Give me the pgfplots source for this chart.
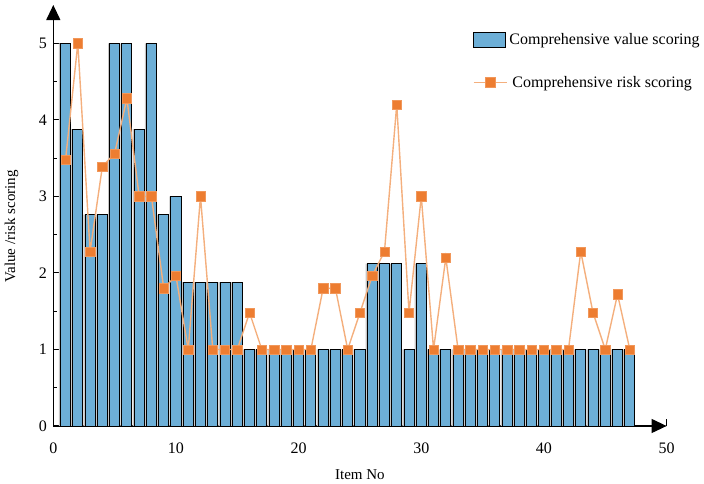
\documentclass[border=0pt]{standalone}
\usepackage{fontspec}
\setmainfont{Liberation Serif}
\usepackage{pgfplots}
\usepackage{pgfplotstable}
\pgfplotsset{compat=1.18}
\usetikzlibrary{arrows.meta}
\definecolor{barblue}{RGB}{109,175,215}
\definecolor{markorange}{RGB}{237,125,49}
\definecolor{lineorange}{RGB}{244,175,125}
\pgfplotstableread{
x val risk
1 5 3.48
2 3.88 5
3 2.76 2.28
4 2.76 3.39
5 5 3.56
6 5 4.28
7 3.88 3
8 5 3
9 2.76 1.8
10 3 1.96
11 1.88 1
12 1.88 3
13 1.88 1
14 1.88 1
15 1.88 1
16 1 1.48
17 1 1
18 1 1
19 1 1
20 1 1
21 1 1
22 1 1.8
23 1 1.8
24 1 1
25 1 1.48
26 2.12 1.96
27 2.12 2.28
28 2.12 4.2
29 1 1.48
30 2.12 3
31 1 1
32 1 2.2
33 1 1
34 1 1
35 1 1
36 1 1
37 1 1
38 1 1
39 1 1
40 1 1
41 1 1
42 1 1
43 1 2.28
44 1 1.48
45 1 1
46 1 1.72
47 1 1
}\datatable
\begin{document}
\begin{tikzpicture}
\begin{axis}[
  scale only axis,
  width=613.3pt, height=421pt,
  xmin=0, xmax=50, ymin=0, ymax=5.5,
  axis lines=left,
  axis line style={line width=1.2pt, -{Triangle[length=15pt,width=14pt]}},
  xtick={0,10,...,50},
  ytick={0,1,...,5},
  minor y tick num=1,
  tick align=inside,
  major tick length=7pt,
  minor tick length=4pt,
  tick style={line width=1.1pt, black},
  /pgf/number format/assume math mode=true,
  ticklabel style={font=\fontsize{16}{19}\selectfont},
  xticklabel style={yshift=-13pt},
  yticklabel style={xshift=-3pt},
  xlabel={Item No},
  ylabel={Value /risk scoring},
  label style={font=\fontsize{15}{18}\selectfont},
  xlabel style={at={(axis description cs:0.5,-0.115)}, anchor=center},
  ylabel style={at={(axis description cs:-0.068,0.474)}, anchor=center},
  legend style={at={(axis description cs:0.684,0.938)}, anchor=north west,
    draw=none, fill=none, inner sep=0pt, row sep=26pt,
    font=\fontsize{16}{19}\selectfont, legend cell align=left},
  clip=false,
]
\addplot[ybar, bar width=0.82, bar shift=-1.6pt, fill=gray!45, draw=none, forget plot] table[x=x, y=val] {\datatable};
\addplot[ybar, bar width=0.82, bar shift=0pt, fill=barblue, draw=black, line width=0.9pt,
  legend image code/.code={\draw[fill=barblue, draw=black, line width=0.9pt] (0pt,-7.5pt) rectangle (32pt,7.5pt);}]
  table[x=x, y=val] {\datatable};
\addlegendentry{Comprehensive value scoring}
\addplot[color=lineorange, line width=1.4pt, mark=square*, mark size=4.7pt,
  mark options={fill=markorange, draw=markorange!80!white, line width=0.5pt},
  legend image code/.code={\draw[color=lineorange, line width=1.4pt] (0pt,0pt) -- (33pt,0pt);
    \draw[fill=markorange, draw=markorange!80!white, line width=0.5pt] (12pt,-4.7pt) rectangle (21.4pt,4.7pt);}]
  table[x=x, y=risk] {\datatable};
\addlegendentry{\hspace{3pt}Comprehensive risk scoring}
\end{axis}
\pgfresetboundingbox
\path ([xshift=-53.3pt,yshift=-58pt]current axis.south west) rectangle ++(704pt,484pt);
\end{tikzpicture}
\end{document}
